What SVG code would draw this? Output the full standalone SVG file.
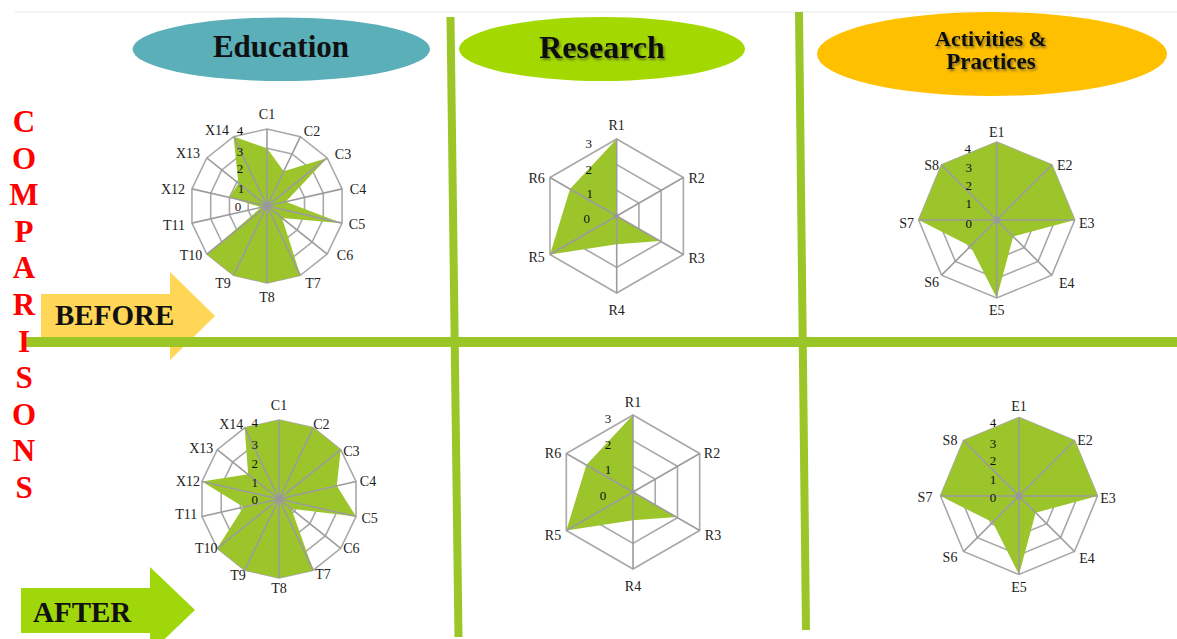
<svg xmlns="http://www.w3.org/2000/svg" xmlns:xlink="http://www.w3.org/1999/xlink" width="1177" height="639" viewBox="0 0 1177 639">
<style>
.bg{fill:#ffffff}
.bar{stroke:#9bc627;stroke-linecap:butt;fill:none}
.ring{fill:none;stroke:#a8a8a8;stroke-width:1.6}
.spoke{fill:none;stroke:#9c9c9c;stroke-width:1.6}
.data{fill:#9bc52b;stroke:none}
.dot{fill:#999999}
.ax{font-family:"Liberation Serif","DejaVu Serif",serif;font-size:14px;fill:#222222;text-anchor:middle;dominant-baseline:central}
.val{font-family:"Liberation Serif","DejaVu Serif",serif;font-size:13px;fill:#111111;text-anchor:middle;dominant-baseline:central}
.cmp{font-family:"Liberation Serif","DejaVu Serif",serif;font-weight:bold;font-size:31px;fill:#ff0000;text-anchor:middle}
.arrowtxt{font-family:"Liberation Serif","DejaVu Serif",serif;font-weight:bold;font-size:29px;fill:#111111}
</style>
<defs>
<filter id="sh" x="-10%" y="-20%" width="120%" height="150%">
<feDropShadow dx="1.5" dy="2" stdDeviation="1.2" flood-color="#333333" flood-opacity="0.55"/>
</filter>
<polygon id="p14" vector-effect="non-scaling-stroke" points="0,-100 43.39,-90.1 78.18,-62.35 97.49,-22.25 97.49,22.25 78.18,62.35 43.39,90.1 0,100 -43.39,90.1 -78.18,62.35 -97.49,22.25 -97.49,-22.25 -78.18,-62.35 -43.39,-90.1"/>
<path id="s14" vector-effect="non-scaling-stroke" d="M0 0L0 -100M0 0L43.39 -90.1M0 0L78.18 -62.35M0 0L97.49 -22.25M0 0L97.49 22.25M0 0L78.18 62.35M0 0L43.39 90.1M0 0L0 100M0 0L-43.39 90.1M0 0L-78.18 62.35M0 0L-97.49 22.25M0 0L-97.49 -22.25M0 0L-78.18 -62.35M0 0L-43.39 -90.1"/>
<polygon id="p6" vector-effect="non-scaling-stroke" points="0,-100 86.6,-50 86.6,50 0,100 -86.6,50 -86.6,-50"/>
<path id="s6" vector-effect="non-scaling-stroke" d="M0 0L0 -100M0 0L86.6 -50M0 0L86.6 50M0 0L0 100M0 0L-86.6 50M0 0L-86.6 -50"/>
<polygon id="p8" vector-effect="non-scaling-stroke" points="0,-100 70.71,-70.71 100,0 70.71,70.71 0,100 -70.71,70.71 -100,0 -70.71,-70.71"/>
<path id="s8" vector-effect="non-scaling-stroke" d="M0 0L0 -100M0 0L70.71 -70.71M0 0L100 0M0 0L70.71 70.71M0 0L0 100M0 0L-70.71 70.71M0 0L-100 0M0 0L-70.71 -70.71"/>
</defs>
<rect class="bg" x="0" y="0" width="1177" height="639"/>
<line x1="15" y1="12" x2="1177" y2="12" stroke="#f3f3f3" stroke-width="2"/>

<g id="arrow-before">
<polygon points="41,294 170,294 170,272 215,316 170,360 170,340 41,340" fill="#ffd656"/>
</g>
<g id="arrow-after">
<polygon points="21,588 150,588 150,567 195,610 150,653 150,633 21,633" fill="#a0d70a"/>
</g>

<g id="connectors">
<line class="bar" x1="450.5" y1="17" x2="458.5" y2="637" stroke-width="8"/>
<line class="bar" x1="799" y1="12" x2="806" y2="630" stroke-width="8"/>
<line class="bar" x1="22" y1="342" x2="1177" y2="342" stroke-width="10"/>
</g>

<g id="label-before"><text class="arrowtxt" x="55" y="325">BEFORE</text></g>
<g id="label-after"><text class="arrowtxt" x="33" y="622">AFTER</text></g>

<g id="comparisons">
<text class="cmp" x="24" y="132">C</text>
<text class="cmp" x="24" y="168.6">O</text>
<text class="cmp" x="24" y="205.2">M</text>
<text class="cmp" x="24" y="241.8">P</text>
<text class="cmp" x="24" y="278.4">A</text>
<text class="cmp" x="24" y="315">R</text>
<text class="cmp" x="24" y="351.6">I</text>
<text class="cmp" x="24" y="388.2">S</text>
<text class="cmp" x="24" y="424.8">O</text>
<text class="cmp" x="24" y="461.4">N</text>
<text class="cmp" x="24" y="498">S</text>
</g>

<g id="header-education">
<ellipse cx="281.3" cy="49.2" rx="148.7" ry="31.8" fill="#5aafb9"/>
<text x="281" y="57" font-family="Liberation Serif, DejaVu Serif, serif" font-weight="bold" font-size="31" fill="#111111" text-anchor="middle">Education</text>
</g>
<g id="header-research">
<ellipse cx="602" cy="49" rx="143" ry="32" fill="#a3d900"/>
<text x="602" y="58" font-family="Liberation Serif, DejaVu Serif, serif" font-weight="bold" font-size="32" fill="#111111" text-anchor="middle" filter="url(#sh)">Research</text>
</g>
<g id="header-activities">
<ellipse cx="992" cy="54" rx="175" ry="42" fill="#ffc000"/>
<text x="991" y="46" font-family="Liberation Serif, DejaVu Serif, serif" font-weight="bold" font-size="22" fill="#111111" text-anchor="middle" filter="url(#sh)">Activities &amp;</text>
<text x="991" y="69" font-family="Liberation Serif, DejaVu Serif, serif" font-weight="bold" font-size="23" fill="#111111" text-anchor="middle" filter="url(#sh)">Practices</text>
</g>

<g id="edu-before" transform="translate(267,206)">
<use xlink:href="#p14" class="ring" transform="scale(0.1925)"/>
<use xlink:href="#p14" class="ring" transform="scale(0.385)"/>
<use xlink:href="#p14" class="ring" transform="scale(0.5775)"/>
<use xlink:href="#p14" class="ring" transform="scale(0.77)"/>
<polygon class="data" points="0,-57.75 16.71,-34.69 60.2,-48.01 18.77,-4.28 75.07,17.13 15.05,12 33.41,69.38 0,77 -33.41,69.38 -60.2,48.01 -5.63,1.29 -37.53,-8.57 -28.6,-22.8 -33.41,-69.38"/>
<use xlink:href="#s14" class="spoke" transform="scale(0.77)"/>
<circle class="dot" r="3.5"/>
<text class="ax" x="0" y="-92">C1</text>
<text class="ax" x="45" y="-75">C2</text>
<text class="ax" x="76" y="-52">C3</text>
<text class="ax" x="91" y="-17">C4</text>
<text class="ax" x="90" y="18">C5</text>
<text class="ax" x="78" y="49">C6</text>
<text class="ax" x="46" y="77">T7</text>
<text class="ax" x="0" y="91">T8</text>
<text class="ax" x="-44" y="77">T9</text>
<text class="ax" x="-76" y="49">T10</text>
<text class="ax" x="-93" y="19">T11</text>
<text class="ax" x="-94" y="-17">X12</text>
<text class="ax" x="-79" y="-53">X13</text>
<text class="ax" x="-50" y="-76">X14</text>
<text class="val" x="-27" y="-76">4</text>
<text class="val" x="-27" y="-54.3">3</text>
<text class="val" x="-27" y="-37.7">2</text>
<text class="val" x="-26" y="-17.7">1</text>
<text class="val" x="-29" y="0.7">0</text>
</g>

<g id="edu-after" transform="translate(279,499)">
<use xlink:href="#p14" class="ring" transform="scale(0.1975)"/>
<use xlink:href="#p14" class="ring" transform="scale(0.395)"/>
<use xlink:href="#p14" class="ring" transform="scale(0.5925)"/>
<use xlink:href="#p14" class="ring" transform="scale(0.79)"/>
<polygon class="data" points="0,-79 34.28,-71.18 61.76,-49.26 57.76,-13.18 77.02,17.58 12.35,9.85 34.28,71.18 0,79 -34.28,71.18 -61.76,49.26 -35.6,8.12 -77.02,-17.58 -30.88,-24.63 -34.28,-71.18"/>
<use xlink:href="#s14" class="spoke" transform="scale(0.79)"/>
<circle class="dot" r="3.5"/>
<text class="ax" x="0" y="-93.7">C1</text>
<text class="ax" x="42.3" y="-74.3">C2</text>
<text class="ax" x="72.3" y="-47.7">C3</text>
<text class="ax" x="89" y="-17.7">C4</text>
<text class="ax" x="90.7" y="19">C5</text>
<text class="ax" x="72.3" y="49">C6</text>
<text class="ax" x="44" y="75.7">T7</text>
<text class="ax" x="0" y="89">T8</text>
<text class="ax" x="-41" y="76.3">T9</text>
<text class="ax" x="-72.7" y="49">T10</text>
<text class="ax" x="-92.7" y="15.7">T11</text>
<text class="ax" x="-91" y="-17.7">X12</text>
<text class="ax" x="-77.7" y="-51">X13</text>
<text class="ax" x="-47.7" y="-74.3">X14</text>
<text class="val" x="-24.3" y="-76.7">4</text>
<text class="val" x="-24.3" y="-54.3">3</text>
<text class="val" x="-24.3" y="-36">2</text>
<text class="val" x="-24.3" y="-17">1</text>
<text class="val" x="-24.3" y="0.7">0</text>
</g>

<g id="research-before" transform="translate(616.7,216)">
<use xlink:href="#p6" class="ring" transform="scale(0.2567)"/>
<use xlink:href="#p6" class="ring" transform="scale(0.5133)"/>
<use xlink:href="#p6" class="ring" transform="scale(0.77)"/>
<polygon class="data" points="0,-77 0,0 43.3,25 0,28.2 -66.68,38.5 -46.68,-26.95"/>
<use xlink:href="#s6" class="spoke" transform="scale(0.77)"/>
<circle class="dot" r="2.5"/>
<text class="ax" x="0" y="-91">R1</text>
<text class="ax" x="80" y="-38">R2</text>
<text class="ax" x="80" y="42">R3</text>
<text class="ax" x="0" y="94">R4</text>
<text class="ax" x="-80" y="41">R5</text>
<text class="ax" x="-80" y="-38">R6</text>
<text class="val" x="-28" y="-73">3</text>
<text class="val" x="-28" y="-47">2</text>
<text class="val" x="-27" y="-23">1</text>
<text class="val" x="-30" y="2">0</text>
</g>

<g id="research-after" transform="translate(633,492)">
<use xlink:href="#p6" class="ring" transform="scale(0.2567)"/>
<use xlink:href="#p6" class="ring" transform="scale(0.5133)"/>
<use xlink:href="#p6" class="ring" transform="scale(0.77)"/>
<polygon class="data" points="0,-77 0,0 43.3,25 0,28.2 -66.68,38.5 -46.68,-26.95"/>
<use xlink:href="#s6" class="spoke" transform="scale(0.77)"/>
<circle class="dot" r="2.5"/>
<text class="ax" x="0" y="-90">R1</text>
<text class="ax" x="79" y="-39">R2</text>
<text class="ax" x="80" y="43">R3</text>
<text class="ax" x="0" y="94">R4</text>
<text class="ax" x="-80" y="43">R5</text>
<text class="ax" x="-80" y="-39">R6</text>
<text class="val" x="-25" y="-74">3</text>
<text class="val" x="-25" y="-48">2</text>
<text class="val" x="-25" y="-23">1</text>
<text class="val" x="-30" y="3">0</text>
</g>

<g id="activities-before" transform="translate(996.7,220)">
<use xlink:href="#p8" class="ring" transform="scale(0.195)"/>
<use xlink:href="#p8" class="ring" transform="scale(0.39)"/>
<use xlink:href="#p8" class="ring" transform="scale(0.585)"/>
<use xlink:href="#p8" class="ring" transform="scale(0.78)"/>
<polygon class="data" points="0,-78 55.15,-55.15 78,0 16.55,16.55 0,78 -26.2,26.2 -78,0 -55.15,-55.15"/>
<use xlink:href="#s8" class="spoke" transform="scale(0.78)"/>
<circle class="dot" r="3.5"/>
<text class="ax" x="0" y="-88">E1</text>
<text class="ax" x="68" y="-55">E2</text>
<text class="ax" x="90" y="3">E3</text>
<text class="ax" x="70" y="63">E4</text>
<text class="ax" x="0" y="90">E5</text>
<text class="ax" x="-65" y="62">S6</text>
<text class="ax" x="-90" y="3">S7</text>
<text class="ax" x="-65" y="-55">S8</text>
<text class="val" x="-29" y="-72">4</text>
<text class="val" x="-28" y="-53">3</text>
<text class="val" x="-28" y="-35">2</text>
<text class="val" x="-28" y="-17">1</text>
<text class="val" x="-28" y="3">0</text>
</g>

<g id="activities-after" transform="translate(1019,496)">
<use xlink:href="#p8" class="ring" transform="scale(0.19625)"/>
<use xlink:href="#p8" class="ring" transform="scale(0.3925)"/>
<use xlink:href="#p8" class="ring" transform="scale(0.58875)"/>
<use xlink:href="#p8" class="ring" transform="scale(0.785)"/>
<polygon class="data" points="0,-78.5 55.51,-55.51 78.5,0 16.65,16.65 0,78.5 -26.37,26.37 -78.5,0 -55.51,-55.51"/>
<use xlink:href="#s8" class="spoke" transform="scale(0.785)"/>
<circle class="dot" r="3.5"/>
<text class="ax" x="0" y="-90">E1</text>
<text class="ax" x="66" y="-56">E2</text>
<text class="ax" x="89" y="2">E3</text>
<text class="ax" x="68" y="62">E4</text>
<text class="ax" x="0" y="91">E5</text>
<text class="ax" x="-69" y="61">S6</text>
<text class="ax" x="-94" y="1">S7</text>
<text class="ax" x="-69" y="-56">S8</text>
<text class="val" x="-26" y="-74">4</text>
<text class="val" x="-26" y="-53">3</text>
<text class="val" x="-26" y="-36">2</text>
<text class="val" x="-26" y="-17">1</text>
<text class="val" x="-26" y="1">0</text>
</g>
</svg>
